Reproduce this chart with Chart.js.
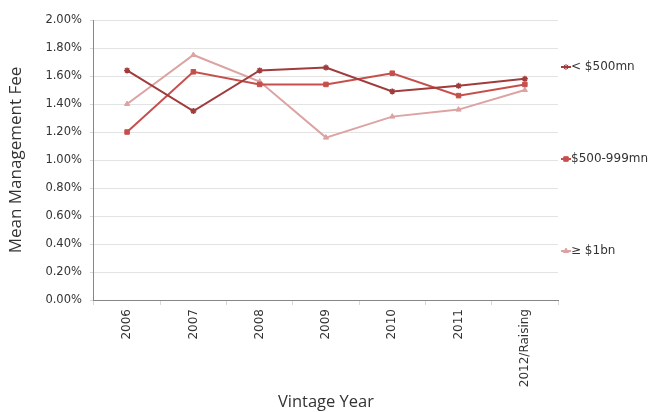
<!DOCTYPE html>
<html>
<head>
<meta charset="utf-8">
<script src="https://cdn.jsdelivr.net/npm/chart.js@4/dist/chart.umd.min.js"></script>
<style>
  html, body { margin: 0; padding: 0; background: #ffffff; }
  #wrap { width: 649px; height: 412px; position: relative; }
</style>
</head>
<body>
<div id="wrap"><canvas id="c" width="649" height="412"></canvas></div>
<script>
// Vintage years on the x axis
const vintages = ['2006', '2007', '2008', '2009', '2010', '2011', '2012/Raising'];

// Mean management fee (%) by fund size
const feeUnder500 = [1.64, 1.35, 1.64, 1.66, 1.49, 1.53, 1.58];
const fee500to999 = [1.20, 1.63, 1.54, 1.54, 1.62, 1.46, 1.54];
const feeOver1bn  = [1.40, 1.75, 1.56, 1.16, 1.31, 1.36, 1.50];

const seriesNames = ['< $500mn', '$500-999mn', '\u2265 $1bn'];

const yTickFont = { family: 'DejaVu Sans', size: 11.5 };
const xTickFont = { family: 'DejaVu Sans', size: 12 };

// Legend drawn beside the plot, one entry per dataset
const sideLegend = {
  id: 'sideLegend',
  afterDraw(chart) {
    const ctx = chart.ctx;
    const rows = [67, 159, 251];
    chart.data.datasets.forEach((ds, i) => {
      const y = rows[i];
      ctx.save();
      ctx.strokeStyle = ds.borderColor;
      ctx.lineWidth = 2;
      ctx.beginPath();
      ctx.moveTo(561, y);
      ctx.lineTo(571, y);
      ctx.stroke();
      ctx.fillStyle = ds.pointBackgroundColor;
      ctx.strokeStyle = ds.borderColor;
      ctx.lineWidth = 1;
      Chart.helpers.drawPoint(ctx, {
        pointStyle: ds.pointStyle,
        radius: ds.pointRadius,
        borderWidth: 1
      }, 566, y);
      ctx.fillStyle = '#333333';
      ctx.font = '12px "DejaVu Sans"';
      ctx.textBaseline = 'middle';
      ctx.textAlign = 'left';
      ctx.fillText(ds.label, 571, y);
      ctx.restore();
    });
  }
};

new Chart(document.getElementById('c'), {
  type: 'line',
  data: {
    labels: vintages,
    datasets: [
      {
        label: seriesNames[0],
        data: feeUnder500,
        borderColor: '#a03c3c',
        backgroundColor: '#a03c3c',
        pointBackgroundColor: '#a03c3c',
        borderWidth: 2,
        pointStyle: 'star',
        pointRadius: 3,
        pointBorderWidth: 1.5,
        tension: 0
      },
      {
        label: seriesNames[1],
        data: fee500to999,
        borderColor: '#c64f4c',
        backgroundColor: '#c64f4c',
        pointBackgroundColor: '#c64f4c',
        borderWidth: 2,
        pointStyle: 'rect',
        pointRadius: 3.2,
        pointBorderWidth: 1,
        tension: 0
      },
      {
        label: seriesNames[2],
        data: feeOver1bn,
        borderColor: '#dca3a2',
        backgroundColor: '#dca3a2',
        pointBackgroundColor: '#dca3a2',
        borderWidth: 2,
        pointStyle: 'triangle',
        pointRadius: 3,
        pointBorderWidth: 1,
        tension: 0
      }
    ]
  },
  options: {
    responsive: false,
    animation: false,
    devicePixelRatio: 1,
    layout: { padding: { top: 20, right: 91, left: 6, bottom: 0 } },
    plugins: {
      legend: { display: false },
      tooltip: { enabled: false }
    },
    scales: {
      x: {
        offset: true,
        grid: {
          offset: true,
          drawOnChartArea: false,
          drawTicks: true,
          tickLength: 5,
          color: '#d9d9d9'
        },
        border: { color: '#868686', width: 1 },
        ticks: {
          font: xTickFont,
          color: '#333333',
          maxRotation: 90,
          minRotation: 90,
          padding: 4,
          autoSkip: false
        },
        title: {
          display: true,
          text: 'Vintage Year',
          font: { family: 'Open Sans', size: 16.5 },
          color: '#333333',
          padding: { top: 1, bottom: 0 }
        }
      },
      y: {
        min: 0,
        max: 2.0,
        grid: {
          color: '#e3e3e3',
          lineWidth: 1,
          drawTicks: true,
          tickLength: 4,
          tickColor: '#d9d9d9'
        },
        border: { color: '#868686', width: 1 },
        ticks: {
          stepSize: 0.2,
          font: yTickFont,
          color: '#333333',
          padding: 8,
          callback: v => v.toFixed(2) + '%'
        },
        title: {
          display: true,
          text: 'Mean Management Fee',
          font: { family: 'Open Sans', size: 17 },
          color: '#333333',
          padding: { top: 0, bottom: 11 }
        }
      }
    }
  },
  plugins: [sideLegend]
});
</script>
</body>
</html>
